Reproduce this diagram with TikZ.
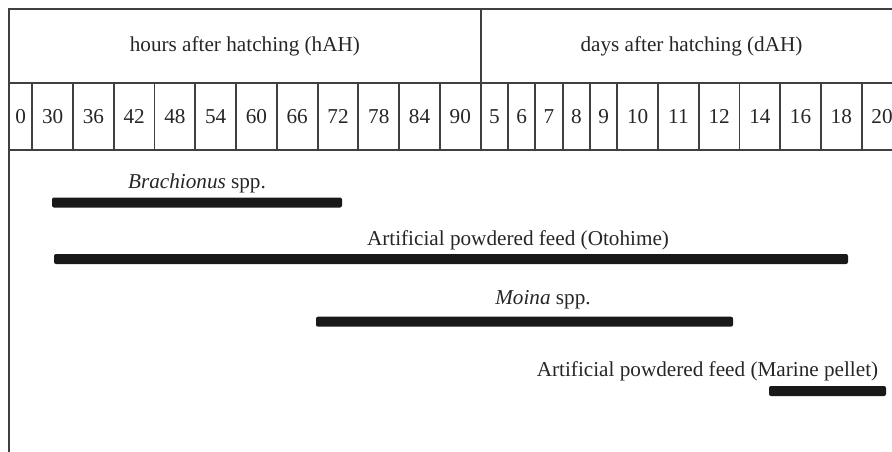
\documentclass[tikz,border=0pt]{standalone}
\usepackage{fontspec}
\setmainfont{Liberation Serif}
\begin{document}
\begin{tikzpicture}[x=1pt, y=-1pt,
    grid/.style={draw=black!75, line width=1.8pt},
    lbl/.style={font=\fontsize{21.2}{25}\selectfont, text=black!85, inner sep=0pt},
    feedbar/.style={fill=black!90, rounded corners=2pt}]
    \useasboundingbox (0,0) rectangle (892,452);
    % frame: top line, left border, row lines
    \draw[grid] (903,9)--(9,9)--(9,452);
    \draw[grid] (9,83)--(903,83);
    \draw[grid] (9,150)--(903,150);
    \draw[grid] (480.7,9)--(480.7,150);
    \node[lbl] (hah) at (244.9,46) {hours after hatching (hAH)};
    \node[lbl] (dah) at (691.5,46) {days after hatching (dAH)};
    % the 0 cell is narrow
    \draw[grid] (32.3,83)--(32.3,150);
    \node[lbl] (h0) at (20.6,116.5) {0};
    \def\w{40.76}
    \foreach \h [count=\i from 0] in {30,36,...,90}{
        % hour cells start at x = 32.3
        \draw[grid] (32.3+\i*\w+\w,83)--(32.3+\i*\w+\w,150);
        \node[lbl] (h\h) at (32.3+\i*\w+\w/2,116.5) {\h};
    }
    \def\v{27.32}
    \foreach \d [count=\i from 0] in {5,...,9}{
        \draw[grid] (480.7+\i*\v+\v,83)--(480.7+\i*\v+\v,150);
        \node[lbl] (d\d) at (480.7+\i*\v+\v/2,116.5) {\d};
    }
    \def\u{40.73}
    \foreach \d [count=\i from 0] in {10,11,12,14,16,18,20}{
        % wide day cells start at x = 617.3
        \draw[grid] (617.3+\i*\u+\u,83)--(617.3+\i*\u+\u,150);
        \node[lbl] (d\d) at (617.3+\i*\u+\u/2,116.5) {\d};
    }
    % feeding periods
    \node[lbl] (brach) at (197,183.5) {\textit{Brachionus} spp.};
    \fill[feedbar] (52,197.5) rectangle (342,207.5);
    \node[lbl] (otohime) at (518,240.5) {Artificial powdered feed (Otohime)};
    \fill[feedbar] (54,254) rectangle (848,264);
    \node[lbl] (moina) at (543,300) {\textit{Moina} spp.};
    \fill[feedbar] (316,316.7) rectangle (733,326.7);
    \node[lbl] (pellet) at (707.5,371) {Artificial powdered feed (Marine pellet)};
    \fill[feedbar] (769,386) rectangle (886,396);
\end{tikzpicture}
\end{document}
